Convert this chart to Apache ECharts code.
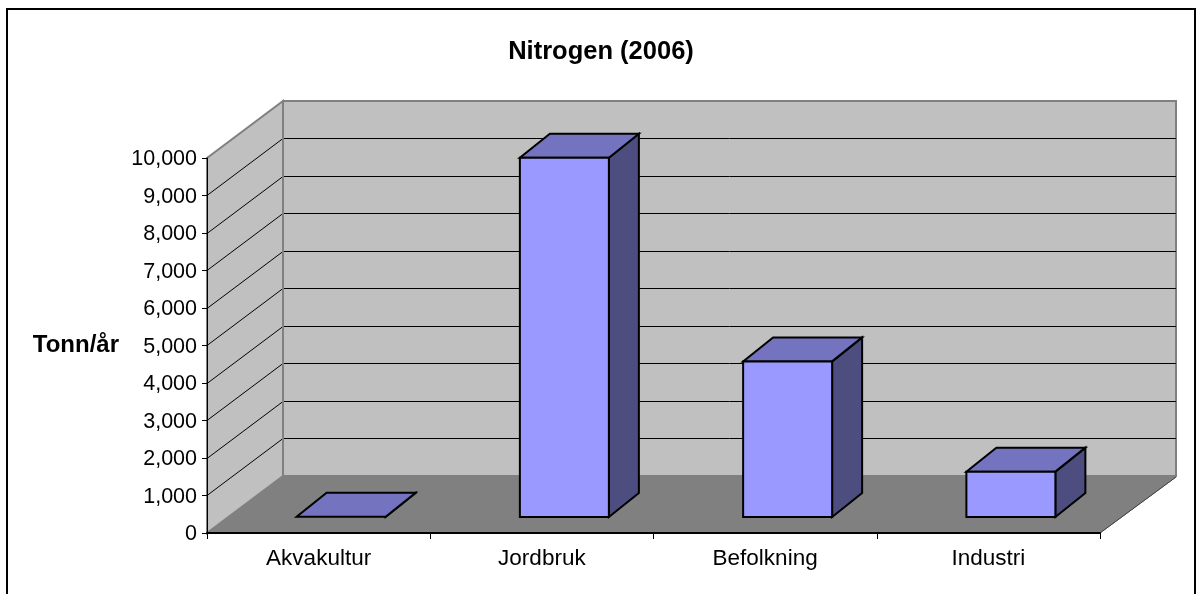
<!DOCTYPE html>
<html><head><meta charset="utf-8">
<style>html,body{margin:0;padding:0;background:#fff}#c{width:1196px;height:594px}</style>
<script src="https://cdn.jsdelivr.net/npm/echarts@6/dist/echarts.min.js"></script>
</head><body><div id="c"></div>
<script>
const categories = ['Akvakultur','Jordbruk','Befolkning','Industri'];
const values = [5, 9580, 4150, 1210];
const yTicks = [0,1000,2000,3000,4000,5000,6000,7000,8000,9000,10000];

const FONT = '"Liberation Sans", Arial, sans-serif';
const wallDX = 76, wallDY = -57;
const barOffX = 22.5, barOffY = -16, barDX = 30, barDY = -24, barW = 89;

const chart = echarts.init(document.getElementById('c'), null, {renderer:'canvas'});

function poly(points, fill, stroke, lw){
  return {type:'polygon', shape:{points}, style:{fill, stroke, lineWidth:lw, lineJoin:'miter'}};
}
function line(a, b, stroke, lw){
  return {type:'line', shape:{x1:a[0],y1:a[1],x2:b[0],y2:b[1]}, style:{stroke, lineWidth:lw}};
}
function renderWalls(params, api){
  const cs = params.coordSys;
  const xL = cs.x, xR = cs.x + cs.width;
  const y0 = api.coord([0, 0])[1], yT = api.coord([0, 10000])[1];
  const kids = [];
  kids.push(poly([[xL,y0],[xL,yT],[xL+wallDX,yT+wallDY],[xL+wallDX,y0+wallDY]], '#c0c0c0', '#808080', 2));
  kids.push(poly([[xL+wallDX,y0+wallDY],[xL+wallDX,yT+wallDY],[xR+wallDX,yT+wallDY],[xR+wallDX,y0+wallDY]], '#c0c0c0', '#808080', 2));
  kids.push(poly([[xL,y0],[xR,y0],[xR+wallDX,y0+wallDY+1],[xL+wallDX,y0+wallDY+1]], '#808080', '#808080', 1));
  yTicks.forEach(t => {
    if (t === 0 || t === 10000) return;
    const y = Math.floor(api.coord([0, t])[1]) + 0.5;
    kids.push(line([xL,y],[xL+wallDX,y+wallDY],'#000',1));
    kids.push(line([xL+wallDX,y+wallDY],[xR+wallDX,y+wallDY],'#000',1));
  });
  kids.push(line([xL+wallDX,yT+wallDY],[xL+wallDX,y0+wallDY],'#808080',2));
  kids.push(line([xR,y0],[xR+wallDX,y0+wallDY+1],'#404040',1));
  return {type:'group', children:kids};
}
function renderBar(params, api){
  const p0 = api.coord([api.value(0), 0]);
  const p1 = api.coord([api.value(0), api.value(1)]);
  const L = p0[0] + barOffX - barW/2, R = L + barW;
  const B = p0[1] + barOffY, T = p1[1] + barOffY;
  const kids = [];
  kids.push(poly([[R,B],[R,T],[R+barDX,T+barDY],[R+barDX,B+barDY]], '#4d4d80', '#000', 2));
  kids.push(poly([[L,T],[R,T],[R+barDX,T+barDY],[L+barDX,T+barDY]], '#7373bf', '#000', 2));
  if (B - T > 1) kids.push(poly([[L,B],[R,B],[R,T],[L,T]], '#9999ff', '#000', 2));
  return {type:'group', children:kids};
}

chart.setOption({
  animation:false,
  backgroundColor:'#fff',
  title:{text:'Nitrogen (2006)', left:596, top:34, textAlign:'center',
    textStyle:{fontFamily:FONT,fontSize:25.5,fontWeight:'bold',color:'#000'}},
  grid:{left:207, right:96, top:158, bottom:61, containLabel:false},
  xAxis:{type:'category', data:categories, boundaryGap:true,
    axisLine:{lineStyle:{color:'#000',width:2}}, axisTick:{show:true,alignWithLabel:false,length:6,lineStyle:{color:'#000',width:1}},
    axisLabel:{color:'#000',fontFamily:FONT,fontSize:22.5,margin:14}, z:5},
  yAxis:{type:'value', min:0, max:10000, interval:1000,
    name:'Tonn/år', nameLocation:'middle', nameRotate:0, nameGap:88,
    nameTextStyle:{color:'#000',fontFamily:FONT,fontSize:24,fontWeight:'bold',padding:[2,0,0,0]},
    axisLine:{show:true,lineStyle:{color:'#000',width:1}}, axisTick:{show:true,length:5,lineStyle:{color:'#000',width:1}},
    splitLine:{show:false},
    axisLabel:{color:'#000',fontFamily:FONT,fontSize:21.5,margin:10,verticalAlign:'top',lineHeight:3,
      formatter:v=>v.toLocaleString('en-US')}, z:5},
  series:[
    {type:'custom', coordinateSystem:'cartesian2d', clip:false, silent:true, z:1,
     encode:{x:0,y:1}, data:[[0,0]], renderItem:renderWalls},
    {type:'custom', coordinateSystem:'cartesian2d', clip:false, silent:true, z:2,
     encode:{x:0,y:1}, data:categories.map((c,i)=>[i,values[i]]), renderItem:renderBar}
  ],
  graphic:[{type:'rect', shape:{x:7,y:9,width:1188,height:590}, style:{fill:'none',stroke:'#000',lineWidth:2}, z:0, silent:true}]
});
</script></body></html>
